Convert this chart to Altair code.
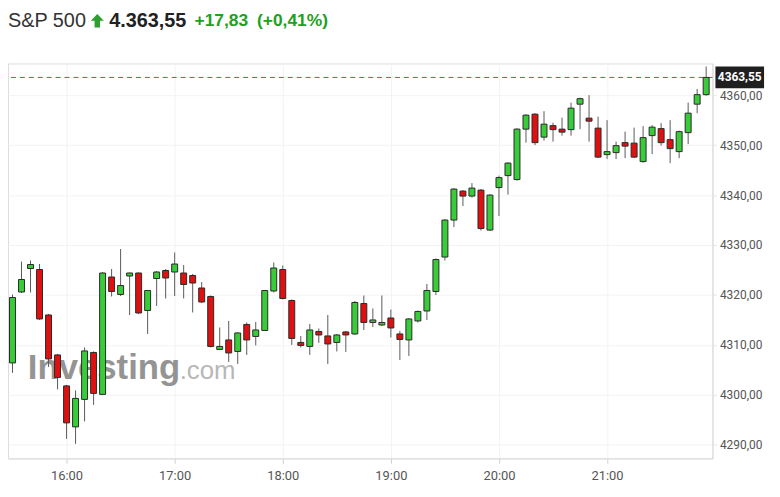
import altair as alt
import pandas as pd

times = ["15:30","15:35","15:40","15:45","15:50","15:55",
         "16:00","16:05","16:10","16:15","16:20","16:25","16:30","16:35","16:40","16:45","16:50","16:55",
         "17:00","17:05","17:10","17:15","17:20","17:25","17:30","17:35","17:40","17:45","17:50","17:55",
         "18:00","18:05","18:10","18:15","18:20","18:25","18:30","18:35","18:40","18:45","18:50","18:55",
         "19:00","19:05","19:10","19:15","19:20","19:25","19:30","19:35","19:40","19:45","19:50","19:55",
         "20:00","20:05","20:10","20:15","20:20","20:25","20:30","20:35","20:40","20:45","20:50","20:55",
         "21:00","21:05","21:10","21:15","21:20","21:25","21:30","21:35","21:40","21:45","21:50","21:55"]
opens = [4306.4,4320.6,4325.3,4325.1,4316.0,4308.0,
         4301.8,4293.6,4299.1,4308.5,4300.1,4323.6,4320.1,4323.8,4324.4,4316.9,4323.3,4324.9,
         4324.6,4324.4,4323.9,4321.4,4319.7,4309.1,4311.0,4308.7,4314.1,4311.7,4312.9,4320.8,
         4325.1,4318.9,4310.5,4309.7,4312.7,4311.8,4310.5,4312.6,4312.2,4318.3,4314.5,4314.0,
         4315.4,4312.2,4311.0,4314.8,4316.8,4320.7,4327.6,4335.0,4340.8,4339.8,4341.0,4333.0,
         4341.5,4343.9,4343.1,4353.2,4356.2,4351.6,4353.9,4353.2,4353.1,4358.2,4355.4,4353.4,
         4348.1,4348.5,4350.5,4350.4,4346.7,4351.9,4353.3,4351.1,4348.7,4352.5,4358.2,4360.1]
highs = [4320.1,4326.7,4326.9,4326.2,4316.2,4308.2,
         4302.0,4300.9,4309.5,4308.7,4324.6,4325.2,4329.2,4324.5,4324.5,4321.0,4324.8,4325.2,
         4328.5,4326.0,4324.2,4322.6,4319.9,4313.5,4314.8,4312.5,4314.5,4314.6,4321.0,4326.5,
         4325.9,4319.1,4311.8,4314.2,4313.3,4316.0,4312.2,4312.8,4318.8,4319.9,4317.3,4319.9,
         4317.1,4312.8,4315.4,4316.9,4322.2,4327.3,4335.2,4341.4,4341.0,4342.4,4341.2,4340.2,
         4343.9,4346.6,4353.4,4356.2,4356.4,4356.8,4354.5,4355.5,4358.5,4359.5,4360.0,4355.7,
         4355.0,4350.7,4352.7,4353.5,4353.8,4354.0,4354.4,4355.0,4352.9,4358.5,4361.25,4365.75]
lows = [4304.4,4320.4,4320.5,4315.0,4305.6,4301.1,
        4291.2,4290.2,4294.7,4298.0,4300.0,4319.7,4319.8,4316.0,4316.2,4312.2,4317.8,4319.3,
        4319.8,4319.3,4316.5,4318.4,4309.5,4309.0,4306.6,4306.2,4308.0,4309.9,4312.8,4320.5,
        4319.1,4310.0,4309.5,4308.0,4310.4,4306.2,4308.7,4308.6,4312.0,4313.0,4313.6,4313.8,
        4311.5,4307.0,4307.8,4314.5,4315.0,4320.0,4326.9,4333.6,4337.8,4339.5,4332.9,4332.8,
        4335.8,4340.1,4342.9,4350.5,4350.0,4350.9,4350.7,4351.9,4351.9,4353.2,4350.7,4347.4,
        4347.2,4347.2,4347.4,4347.4,4346.5,4348.2,4349.9,4346.4,4347.4,4350.2,4356.4,4359.9]
closes = [4319.5,4323.1,4326.1,4315.2,4307.2,4303.5,
          4294.4,4299.3,4308.8,4300.3,4324.4,4320.7,4321.9,4324.4,4316.4,4320.9,4324.6,4323.4,
          4326.2,4322.1,4322.4,4318.6,4309.7,4309.7,4308.4,4312.4,4311.0,4313.0,4320.9,4325.4,
          4319.3,4311.3,4309.9,4313.0,4312.0,4310.2,4312.0,4312.0,4318.5,4314.5,4315.0,4314.5,
          4313.4,4311.1,4315.2,4316.7,4320.9,4327.1,4335.0,4341.2,4339.8,4341.4,4333.3,4340.0,
          4343.5,4346.4,4353.2,4356.0,4350.5,4354.2,4353.1,4352.6,4357.4,4359.3,4354.8,4347.6,
          4348.7,4349.9,4349.8,4347.6,4351.5,4353.6,4350.5,4349.3,4352.7,4356.4,4360.1,4363.55]

y_ticks = [4290, 4300, 4310, 4320, 4330, 4340, 4350, 4360]
x_ticks = [960, 1020, 1080, 1140, 1200, 1260]
last_price = 4363.55

df = pd.DataFrame({
    "t": [int(s[:2]) * 60 + int(s[3:]) for s in times],
    "open": opens, "high": highs, "low": lows, "close": closes,
})

GREEN = "#38cc38"
RED = "#e01010"

xs = alt.Scale(domain=[927.5, 1318.5], nice=False, zero=False, padding=0)
ys = alt.Scale(domain=[4287.3, 4366.35], nice=False, zero=False, padding=0)

x_enc = alt.X("t:Q", scale=xs, axis=alt.Axis(
    values=x_ticks, title=None,
    labelExpr="floor(datum.value/60) + ':' + (datum.value % 60 < 10 ? '0' : '') + (datum.value % 60)",
    domainColor="#dcdcdc", tickColor="#d0d0d0", tickSize=5, labelPadding=6,
    labelFont="Roboto", labelFontSize=13, labelColor="#555",
    gridColor="#f3f3f3"))

base = alt.Chart(df)

grid_y = base.mark_rule(opacity=0).encode(
    x=x_enc,
    y=alt.Y("close:Q", scale=ys, axis=alt.Axis(
        orient="right", values=y_ticks, title=None,
        labelExpr="replace(format(datum.value, '.2f'), '.', ',')",
        domainColor="#dcdcdc", tickColor="#e6e6e6", tickSize=4, labelPadding=3,
        labelFont="Roboto", labelFontSize=12, labelColor="#555",
        gridColor="#f3f3f3")),
)

color = alt.condition("datum.close >= datum.open", alt.value(GREEN), alt.value(RED))

wicks = base.mark_rule(color="#5a5a5a", strokeWidth=1).encode(
    x=alt.X("t:Q", scale=xs),
    y=alt.Y("low:Q", scale=ys),
    y2="high:Q",
)

bodies = base.mark_bar(size=6, stroke="#2a2a2a", strokeWidth=1).encode(
    x=alt.X("t:Q", scale=xs),
    y=alt.Y("open:Q", scale=ys),
    y2="close:Q",
    fill=color,
)

one = pd.DataFrame({"a": [0]})

price_line = alt.Chart(one).mark_rule(color="#c04040", strokeDash=[5, 4], strokeWidth=1).encode(
    y=alt.Y(datum=last_price, scale=ys),
)

tag_box = alt.Chart(one).mark_rect(color="#1f1f1f").encode(
    x=alt.value(713), x2=alt.value(762),
    y=alt.value(3), y2=alt.value(25),
)
tag_text = alt.Chart(one).mark_text(
    text="4363,55", color="white", font="Roboto", fontSize=12, fontWeight="bold", align="center", baseline="middle"
).encode(x=alt.value(737.5), y=alt.Y(datum=last_price, scale=ys))

# header
h1 = alt.Chart(one).mark_text(text="S&P 500", font="Liberation Sans", fontSize=20, color="#333",
                              align="left", baseline="middle").encode(x=alt.value(0), y=alt.value(-43))
arrow = alt.Chart(one).mark_point(
    shape="M0,-1 L0.95,0 L0.4,0 L0.4,1 L-0.4,1 L-0.4,0 L-0.95,0 Z",
    filled=True, color="#2e9e2e", size=190, opacity=1, strokeWidth=0).encode(x=alt.value(90), y=alt.value(-43))
h2 = alt.Chart(one).mark_text(text="4.363,55", font="Liberation Sans", fontSize=20, fontWeight="bold",
                              color="#222", align="left", baseline="middle").encode(x=alt.value(102), y=alt.value(-43))
h3 = alt.Chart(one).mark_text(text="+17,83", font="Liberation Sans", fontSize=17.5, fontWeight="bold",
                              color="#21a021", align="left", baseline="middle").encode(x=alt.value(188), y=alt.value(-43))
h4 = alt.Chart(one).mark_text(text="(+0,41%)", font="Liberation Sans", fontSize=17.5, fontWeight="bold",
                              color="#21a021", align="left", baseline="middle").encode(x=alt.value(251), y=alt.value(-43))

# watermark
wm1 = alt.Chart(one).mark_text(text="Investing", font="Liberation Sans", fontSize=35, fontWeight="bold",
                               color="#7a7a7a", opacity=0.8, align="left", baseline="alphabetic").encode(
    x=alt.value(20), y=alt.value(318))
wm2 = alt.Chart(one).mark_text(text=".com", font="Liberation Sans", fontSize=26,
                               color="#9a9a9a", opacity=0.7, align="left", baseline="alphabetic").encode(
    x=alt.value(173), y=alt.value(318))

chart = alt.layer(
    grid_y, wm1, wm2, price_line, wicks, bodies, tag_box, tag_text, h1, arrow, h2, h3, h4
).properties(
    width=710, height=398,
    autosize=alt.AutoSizeParams(type="none"),
    padding={"left": 0, "top": 54, "right": 60, "bottom": 27},
).configure_view(stroke=None).configure(background="white")

chart.save("out.html", embed_options={"renderer": "svg", "actions": False})
